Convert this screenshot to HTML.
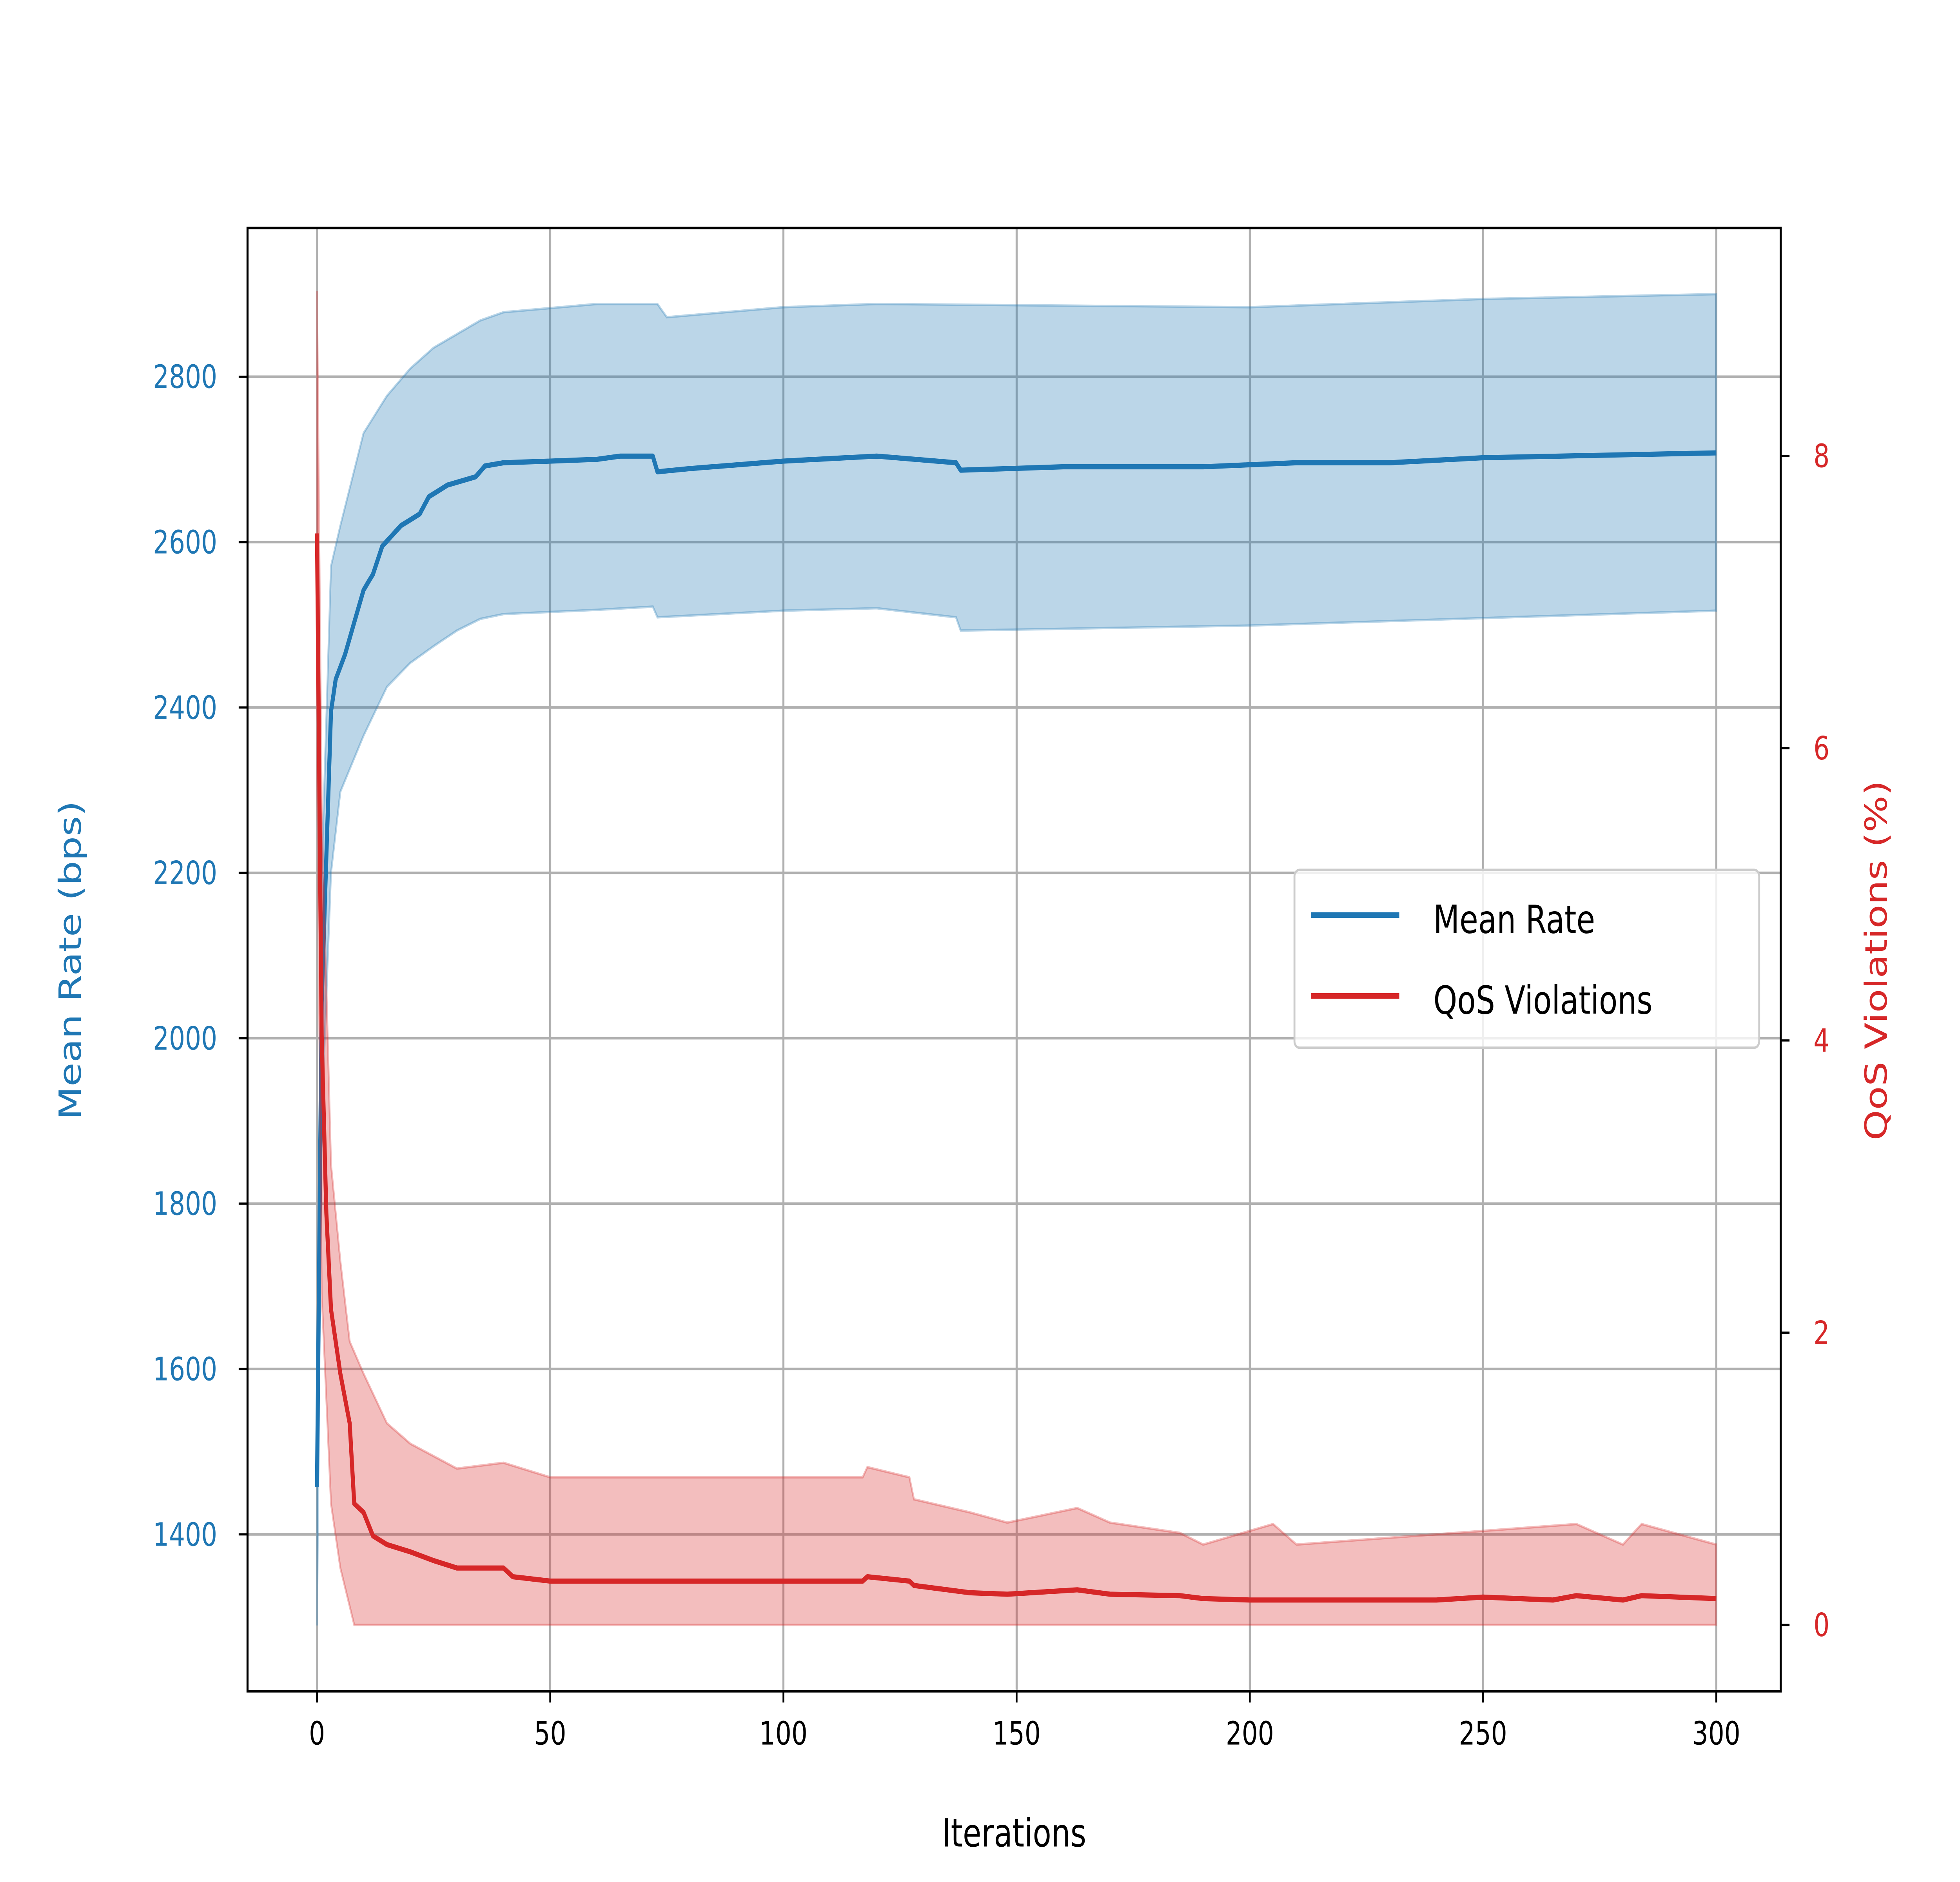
<!DOCTYPE html>
<html><head><meta charset="utf-8"><style>
html,body{margin:0;padding:0;background:#fff;width:100%;height:100%;overflow:hidden;}
svg{display:block;width:100vw;height:100vh;font-family:"DejaVu Sans","Liberation Sans",sans-serif;}
</style></head><body>
<svg id="chart" viewBox="0 0 1552 1164" preserveAspectRatio="none" xmlns="http://www.w3.org/2000/svg">
<rect width="1552" height="1164" fill="#fff"/>
<g id="grid"></g>
<g id="series"></g>
<rect x="196" y="141" width="1214" height="905" fill="none" stroke="#000" stroke-width="1.6"/>
<g id="axes"></g>
<text x="803" y="1142" font-size="24" text-anchor="middle">Iterations</text>
<text transform="translate(64,594) rotate(-90)" font-size="24" text-anchor="middle" fill="#1f77b4">Mean Rate (bps)</text>
<text transform="translate(1494,594) rotate(-90)" font-size="24" text-anchor="middle" fill="#d62728">QoS Violations (%)</text>
<g>
<rect x="1025" y="538" width="368" height="110" rx="4" fill="#fff" fill-opacity="0.8" stroke="#ccc" stroke-width="1.5"/>
<line x1="1038" y1="566" x2="1108" y2="566" stroke="#1f77b4" stroke-width="3.5"/>
<text x="1135" y="577" font-size="24">Mean Rate</text>
<line x1="1038" y1="616" x2="1108" y2="616" stroke="#d62728" stroke-width="3.5"/>
<text x="1135" y="627" font-size="24">QoS Violations</text>
</g>
</svg>
<script>
const rateIter=[0,1,2,3,4,6,8,10,12,14,18,22,24,28,34,36,40,50,60,65,72,73,80,100,120,137,138,160,190,210,230,250,300];
const rateMean=[1457,2043,2219,2395,2434,2464,2503,2542,2561,2595,2620,2634,2655,2669,2679,2692,2696,2698,2700,2704,2704,2685,2689,2698,2704,2696,2687,2691,2691,2696,2696,2702,2708];
const rateUpIter=[0,1,3,5,10,15,20,25,35,40,60,73,75,100,120,200,250,300];
const rateUpper=[1460,2200,2571,2620,2732,2777,2810,2835,2868,2878,2888,2888,2872,2884,2888,2884,2894,2900];
const rateLoIter=[0,1,3,5,10,15,20,25,30,35,40,60,72,73,100,120,137,138,200,300];
const rateLower=[1290,1900,2200,2298,2366,2425,2454,2474,2493,2507,2513,2518,2522,2509,2517,2520,2509,2493,2499,2517];
const qosIter=[0,1,2,3,5,7,8,10,12,15,20,25,30,40,42,50,117,118,127,128,140,148,163,170,185,190,200,240,250,265,270,280,284,300];
const qosMean=[7.47,4.04,2.82,2.16,1.72,1.38,0.83,0.77,0.61,0.55,0.50,0.44,0.39,0.39,0.33,0.30,0.30,0.33,0.30,0.27,0.22,0.21,0.24,0.21,0.20,0.18,0.17,0.17,0.19,0.17,0.20,0.17,0.20,0.18];
const qosUpIter=[0,1,3,5,7,10,15,20,30,40,50,117,118,127,128,140,148,163,170,185,190,205,210,270,280,284,300];
const qosUpper=[9.13,5.59,3.15,2.49,1.94,1.72,1.38,1.24,1.07,1.11,1.01,1.01,1.08,1.01,0.86,0.77,0.70,0.80,0.70,0.63,0.55,0.69,0.55,0.69,0.55,0.69,0.55];
const qosLoIter=[0,1,3,5,8,300];
const qosLower=[6.0,2.27,0.83,0.39,0,0];
const xTicks=[0,50,100,150,200,250,300];
const leftTicks=[1400,1600,1800,2000,2200,2400,2600,2800];
const rightTicks=[0,2,4,6,8];

const NS="http://www.w3.org/2000/svg";
const X=v=>251+(v/300)*1108;
const YL=v=>233+(2800-v)*(716/1400);
const YR=v=>1005-v*(723/8);
function mk(tag,attrs,parent){const e=document.createElementNS(NS,tag);for(const k in attrs)e.setAttribute(k,attrs[k]);parent.appendChild(e);return e;}
function pts(it,vals,fy){return it.map((t,i)=>X(t).toFixed(1)+","+fy(vals[i]).toFixed(1));}
const grid=document.getElementById('grid'),series=document.getElementById('series'),axes=document.getElementById('axes');
xTicks.forEach(t=>{
 const g=mk('line',{x1:X(t),x2:X(t),y1:141,y2:1046,stroke:'#b0b0b0','stroke-width':1.6},grid);
 
 
 const tk=mk('line',{x1:X(t),x2:X(t),y1:1046,y2:1053,stroke:'#000','stroke-width':1.4},axes);
 
 
 const tx=mk('text',{x:X(t),y:1079,'font-size':20,'text-anchor':'middle'},axes);tx.textContent=t;
 
 
});
leftTicks.forEach(t=>{
 const g=mk('line',{x1:196,x2:1410,y1:YL(t),y2:YL(t),stroke:'#b0b0b0','stroke-width':1.6},grid);
 
 
 const tk=mk('line',{x1:189,x2:196,y1:YL(t),y2:YL(t),stroke:'#000','stroke-width':1.4},axes);
 
 
 const tx=mk('text',{x:172,y:YL(t)+7,'font-size':20,'text-anchor':'end',fill:'#1f77b4'},axes);tx.textContent=t;
 
 
});
rightTicks.forEach(t=>{
 const tk=mk('line',{x1:1410,x2:1417,y1:YR(t),y2:YR(t),stroke:'#000','stroke-width':1.4},axes);
 
 
 const tx=mk('text',{x:1436,y:YR(t)+7,'font-size':20,fill:'#d62728'},axes);tx.textContent=t;
 
 
});
const rb=mk('polygon',{points:pts(rateUpIter,rateUpper,YL).concat(pts(rateLoIter,rateLower,YL).reverse()).join(' '),fill:'#1f77b4','fill-opacity':0.3,stroke:'#1f77b4','stroke-opacity':0.3,'stroke-width':1.5},series);


const rl=mk('polyline',{points:pts(rateIter,rateMean,YL).join(' '),fill:'none',stroke:'#1f77b4','stroke-width':3.2,'stroke-linejoin':'round'},series);


const qb=mk('polygon',{points:pts(qosUpIter,qosUpper,YR).concat(pts(qosLoIter,qosLower,YR).reverse()).join(' '),fill:'#d62728','fill-opacity':0.3,stroke:'#d62728','stroke-opacity':0.3,'stroke-width':1.5},series);


const ql=mk('polyline',{points:pts(qosIter,qosMean,YR).join(' '),fill:'none',stroke:'#d62728','stroke-width':3.2,'stroke-linejoin':'round'},series);


</script>
</body></html>
